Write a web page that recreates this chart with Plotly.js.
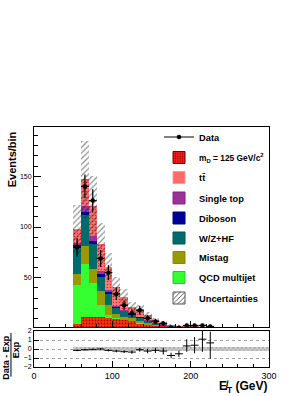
<!DOCTYPE html>
<html>
<head>
<meta charset="utf-8">
<script src="https://cdn.plot.ly/plotly-3.0.1.min.js"></script>
<style>html,body{margin:0;padding:0;background:#fff;}#chart{width:306px;height:396px;}</style>
</head>
<body>
<div id="chart"></div>
<script>
// ---- data ----
const binCenters = [55,65,75,85,95,105,115,125,135,145,155,165,175,185,195,205,215,225,235,245,255,265,275,285,295];
const signalMD   = [4.6,11.2,11.5,11,10,9,8,7,4,3,2.5,2,1.4,0.9,0.9,0.9,0.6,0.5,0.4,0.35,0.3,0.25,0.2,0.15,0.1];
const qcd        = [38,52,33,12.5,3.5,1.5,0.8,0.8,1.5,0.7,0.3,0.2,0.1,0.1,0.1,0.1,0.05,0.05,0,0,0,0,0,0,0];
const mistag     = [11,18,14,13,9.5,3.5,3,2.3,2,1.5,1,0.7,0.4,0.2,0.2,0.2,0.15,0.1,0.1,0.1,0.05,0.05,0.05,0,0];
const wzhf       = [26.5,30.5,24.5,14.5,11,6,5,3.2,3,2,1.2,0.8,0.5,0.3,0.3,0.3,0.2,0.2,0.15,0.1,0.1,0.05,0.05,0.05,0.05];
const diboson    = [2.5,3.5,3,3,1.5,1,0.8,0.6,0.5,0.4,0.3,0.2,0.1,0.1,0.1,0.1,0.05,0.05,0.05,0,0,0,0,0,0];
const singleTop  = [1.5,5.5,5,2.5,2.5,1.3,0.8,0.7,0.7,0.5,0.4,0.3,0.2,0.1,0.1,0.1,0.1,0.05,0.05,0.05,0.05,0,0,0,0];
const ttbar      = [13.5,26.5,30,26.5,23,18.5,13,6.4,7.8,4.9,2.5,1.6,0.9,0.4,0.5,0.4,0.3,0.25,0.2,0.15,0.1,0.1,0.05,0.05,0.05];
const uncert     = [24.5,38,29.5,21,13,10,8,5.5,4,2.8,1.8,1.2,0.8,0.5,0.5,0.5,0.35,0.3,0.25,0.2,0.15,0.12,0.1,0.08,0.06];

const dataX   = [55,65,75,85,95,105,115,125,135,145,155,165,175,185,195,205,215,225];
const dataY   = [80,140,126,69,55,34,23,15,18,10,7,5,1,1,3,3,3,2];
const dataErr = [9,11.8,11.2,8.3,7.4,5.8,4.8,3.9,4.2,3.2,2.6,2.2,1,1,1.7,1.7,1.7,1.4];

const ratioY      = [-0.15,-0.08,-0.04,0,-0.15,-0.23,-0.3,-0.34,-0.08,-0.23,-0.15,-0.23,-0.72,-0.53,0.34,0.42,1.09,0.68];
const ratioErrUp  = [0.09,0.08,0.09,0.1,0.12,0.14,0.15,0.19,0.21,0.25,0.3,0.38,0.3,0.35,0.75,0.9,0.95,1.25];
const ratioErrDn  = [0.09,0.08,0.09,0.1,0.12,0.14,0.15,0.19,0.21,0.25,0.3,0.38,0.3,0.35,0.65,0.9,1.4,1.75];
const ratioBand   = [0.25,0.26,0.24,0.25,0.22,0.25,0.25,0.26,0.2,0.22,0.22,0.2,0.22,0.24,0.24,0.25,0.24,0.25,0.25,0.24,0.25,0.25,0.24,0.25,0.25];

const xTickVals = [0,100,200,300];

// ---- styles ----
const FONT = 'Liberation Sans, Arial, Helvetica, sans-serif';
const comps = [
  {name:'m<sub>D</sub> = 125 GeV/c<sup>2</sup>', vals:signalMD,
   marker:{color:'#f03c14', line:{width:0}, pattern:{shape:'.', fgcolor:'#b00000', bgcolor:'#f03c14', size:3, solidity:0.3}},
   leg:{color:'#ff2020', line:{width:1,color:'#700'}, pattern:{shape:'.', fgcolor:'#900000', bgcolor:'#ff2020', size:3, solidity:0.3}}},
  {name:'QCD multijet', vals:qcd, marker:{color:'#33ff33', line:{width:0}}, leg:{color:'#33ff33', line:{width:1,color:'#2c2'}}},
  {name:'Mistag', vals:mistag, marker:{color:'#999900', line:{width:0}}, leg:{color:'#999900', line:{width:1,color:'#880'}}},
  {name:'W/Z+HF', vals:wzhf, marker:{color:'#006b6b', line:{width:0}}, leg:{color:'#006b6b', line:{width:1,color:'#055'}}},
  {name:'Diboson', vals:diboson, marker:{color:'#000099', line:{width:0}}, leg:{color:'#000099', line:{width:1,color:'#007'}}},
  {name:'Single top', vals:singleTop, marker:{color:'#993399', line:{width:0}}, leg:{color:'#993399', line:{width:1,color:'#828'}}},
  {name:'t<span>t\u0304</span>', vals:ttbar,
   marker:{color:'#ff7070', line:{width:0}, pattern:{shape:'.', fgcolor:'#e02828', bgcolor:'#ff7a7a', size:3, solidity:0.22}},
   leg:{color:'#ff6b6b', line:{width:1,color:'#f99'}}}
];
const legendOrder = ['Data', comps[0].name, comps[6].name, comps[5].name, comps[4].name, comps[3].name, comps[2].name, comps[1].name, 'Uncertainties'];
// vertical centre (px) of each legend row in the reference, and text size per row
const legendRowPx = [137, 157.5, 177.5, 198, 218, 238, 257.5, 277.5, 298];
const legendRowSize = [9.3, 8.4, 9.3, 9.3, 9.3, 9.3, 9.3, 9.3, 9.3];

const traces = [];
let cum = binCenters.map(() => 0);
comps.forEach(c => {
  traces.push({type:'bar', x:binCenters, y:c.vals, base:cum.slice(), width:10,
    marker:c.marker, showlegend:false, xaxis:'x', yaxis:'y', hoverinfo:'skip'});
  cum = cum.map((v,i) => v + c.vals[i]);
});
const total = cum;
// uncertainty band (hatched) around the total
traces.push({type:'bar', x:binCenters, y:uncert.map(u => 2*u), base:total.map((t,i) => t - uncert[i]), width:10,
  marker:{color:'rgba(0,0,0,0)', line:{width:0}, pattern:{shape:'/', fgcolor:'#222', bgcolor:'rgba(0,0,0,0)', size:4, solidity:0.3, fillmode:'overlay'}},
  showlegend:false, xaxis:'x', yaxis:'y', hoverinfo:'skip'});
// data points
traces.push({type:'scatter', mode:'markers', x:dataX, y:dataY,
  marker:{color:'#000', size:4.5},
  error_y:{type:'data', array:dataErr, color:'#000', thickness:1.2, width:0},
  error_x:{type:'constant', value:5, color:'#000', thickness:1.2, width:0},
  showlegend:false, xaxis:'x', yaxis:'y'});

// ratio band
traces.push({type:'bar', x:binCenters, y:ratioBand.map(u => 2*u), base:ratioBand.map(u => -u), width:10,
  marker:{color:'#c4c4c4', line:{width:0}, pattern:{shape:'x', fgcolor:'#8a8a8a', bgcolor:'#cfcfcf', size:3, solidity:0.3}},
  showlegend:false, xaxis:'x2', yaxis:'y2', hoverinfo:'skip'});
// ratio points
traces.push({type:'scatter', mode:'markers', x:dataX, y:ratioY,
  marker:{color:'#000', size:1},
  error_y:{type:'data', array:ratioErrUp, arrayminus:ratioErrDn, color:'#000', thickness:1, width:0},
  error_x:{type:'constant', value:5, color:'#000', thickness:1, width:0},
  showlegend:false, xaxis:'x2', yaxis:'y2'});

// legend-only entries, one legend box per row for exact row placement
const legTraces = {};
legTraces['Data'] = {type:'scatter', mode:'lines+markers', x:[null], y:[null], name:'Data',
  line:{color:'#000', width:1}, marker:{color:'#000', size:4.5}};
comps.forEach(c => {
  legTraces[c.name] = {type:'bar', x:[null], y:[null], name:c.name, marker:c.leg};
});
legTraces['Uncertainties'] = {type:'bar', x:[null], y:[null], name:'Uncertainties',
  marker:{color:'#fff', line:{width:1, color:'#555'}, pattern:{shape:'/', fgcolor:'#333', bgcolor:'#fff', size:4, solidity:0.25}}};

const PLOT_BOTTOM = 367, PLOT_H = 240;
const layout = {
  width:306, height:396,
  margin:{l:34, r:37, t:127, b:29, pad:0},
  paper_bgcolor:'#fff', plot_bgcolor:'#fff',
  barmode:'overlay', bargap:0,
  font:{family:FONT, color:'#000', size:8},
  showlegend:true
};
legendOrder.forEach((n, i) => {
  const key = i === 0 ? 'legend' : 'legend' + (i + 1);
  const t = legTraces[n];
  t.legend = key; t.showlegend = true; t.xaxis = 'x'; t.yaxis = 'y'; t.hoverinfo = 'skip';
  traces.push(t);
  layout[key] = {x:0.532, xanchor:'left', y:(PLOT_BOTTOM - legendRowPx[i]) / PLOT_H, yanchor:'middle',
    bgcolor:'rgba(0,0,0,0)', font:{family:FONT, size:legendRowSize[i], weight:'bold', color:'#000'}, itemwidth:30};
});

const axisCommon = {showline:true, linecolor:'#000', linewidth:1, mirror:true, ticks:'inside', tickcolor:'#000',
  zeroline:false, showgrid:false, fixedrange:true};

Object.assign(layout, {
  xaxis:Object.assign({}, axisCommon, {domain:[0,1], range:[0,300], anchor:'y', showticklabels:false,
    tickvals:xTickVals, ticklen:6, minor:{dtick:20, ticklen:3, ticks:'inside', tickcolor:'#000', tick0:0}}),
  yaxis:Object.assign({}, axisCommon, {domain:[0.1667,1], range:[1.5,198.5], anchor:'x',
    tick0:0, dtick:50, ticklen:7, tickfont:{size:7, family:FONT},
    minor:{dtick:10, tick0:0, ticklen:4, ticks:'inside', tickcolor:'#000'}}),
  xaxis2:Object.assign({}, axisCommon, {domain:[0,1], range:[0,300], anchor:'y2', matches:'x',
    tickvals:xTickVals, ticktext:xTickVals.map(String), ticklen:6, tickfont:{size:9, family:FONT},
    minor:{dtick:20, ticklen:3, ticks:'inside', tickcolor:'#000', tick0:0}}),
  yaxis2:Object.assign({}, axisCommon, {domain:[0,0.15], range:[-2,2], anchor:'x2',
    tickvals:[-2,-1,0,1,2], ticklen:5, tickfont:{size:7, family:FONT},
    showgrid:true, gridcolor:'#888', griddash:'dot', gridwidth:0.8}),
  annotations:[
    {text:'<b>Events/bin</b>', xref:'paper', yref:'paper', x:-0.094, y:0.99, xanchor:'center', yanchor:'top',
     textangle:-90, showarrow:false, font:{size:11, family:FONT}},
    {text:'<b>E\u0338<sub>T</sub> (GeV)</b>', xref:'paper', yref:'paper', x:1, y:-0.085, xanchor:'right', yanchor:'middle',
     showarrow:false, font:{size:12, family:FONT}},
    {text:'<b>Data - Exp</b>', xref:'paper', yref:'paper', x:-0.118, y:0.04, xanchor:'center', yanchor:'middle',
     textangle:-90, showarrow:false, font:{size:9, family:FONT}},
    {text:'<b>Exp</b>', xref:'paper', yref:'paper', x:-0.076, y:0.07, xanchor:'center', yanchor:'middle',
     textangle:-90, showarrow:false, font:{size:9, family:FONT}}
  ],
  shapes:[
    {type:'line', xref:'paper', yref:'paper', x0:-0.098, x1:-0.098, y0:-0.04, y1:0.142, line:{color:'#000', width:1}}
  ]
});

Plotly.newPlot('chart', traces, layout, {staticPlot:true, displayModeBar:false});
</script>
</body>
</html>
